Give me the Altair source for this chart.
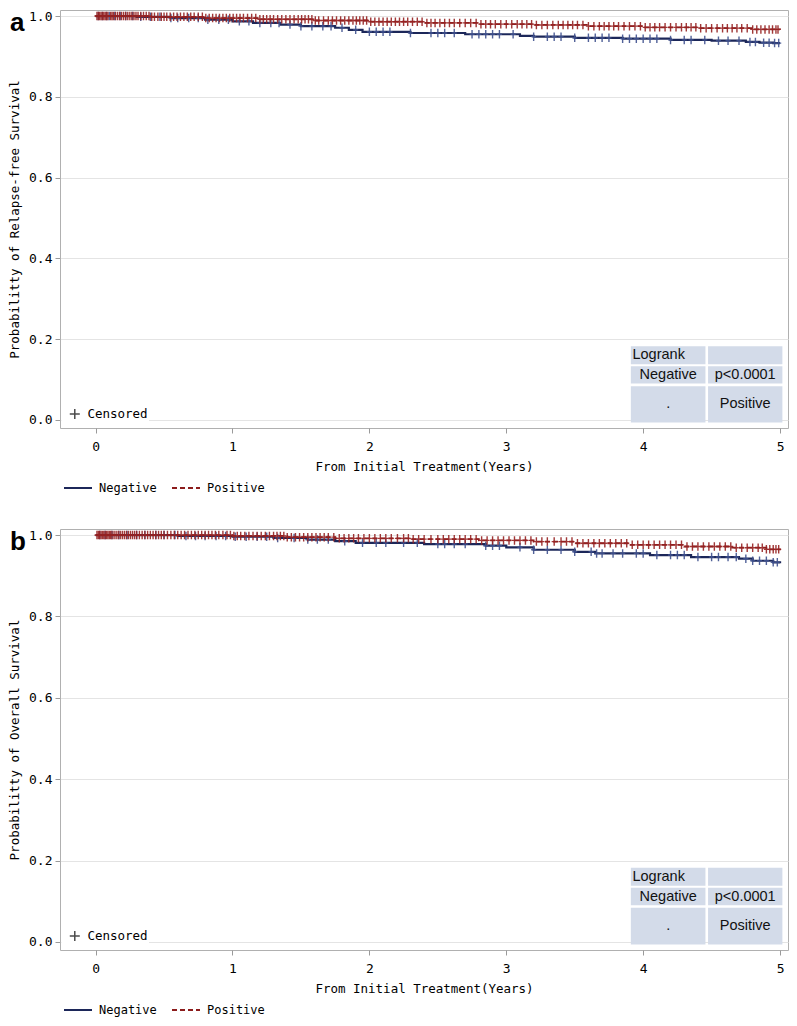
import altair as alt
import numpy as np
import pandas as pd

GROUPS = ["Negative", "Positive"]
X_TICKS = [0, 1, 2, 3, 4, 5]
Y_TICKS = [0.0, 0.2, 0.4, 0.6, 0.8, 1.0]

# ---- Panel a: relapse-free survival (KM step values) ----
rfs_neg_time = [0.0, 0.30, 0.55, 0.80, 1.00, 1.15, 1.35, 1.50, 1.75, 1.85, 1.95, 2.30, 2.70, 3.10, 3.20, 3.50, 3.85, 4.20, 4.50, 4.75, 4.85, 4.95, 5.00]
rfs_neg_surv = [1.000, 0.998, 0.995, 0.991, 0.987, 0.983, 0.979, 0.975, 0.971, 0.966, 0.961, 0.958, 0.955, 0.951, 0.949, 0.946, 0.944, 0.941, 0.939, 0.936, 0.934, 0.933, 0.933]
rfs_pos_time = [0.0, 0.40, 0.80, 1.20, 1.60, 2.00, 2.40, 2.80, 3.20, 3.60, 4.00, 4.40, 4.80, 5.00]
rfs_pos_surv = [1.000, 0.998, 0.995, 0.992, 0.989, 0.986, 0.983, 0.980, 0.978, 0.975, 0.972, 0.970, 0.967, 0.966]
rfs_neg_cens = [0.02, 0.05, 0.08, 0.10, 0.14, 0.18, 0.22, 0.27, 0.33, 0.40, 0.47, 0.55, 0.60, 0.68, 0.75, 0.82, 0.90, 0.97,
                1.05, 1.12, 1.20, 1.28, 1.34, 1.42, 1.50, 1.58, 1.66, 1.72, 1.80, 1.90, 2.00, 2.05, 2.10, 2.15, 2.30, 2.45,
                2.50, 2.55, 2.62, 2.75, 2.80, 2.85, 2.90, 2.95, 3.05, 3.20, 3.30, 3.35, 3.40, 3.50, 3.60, 3.65, 3.70, 3.75,
                3.85, 3.90, 3.95, 4.00, 4.05, 4.10, 4.20, 4.30, 4.35, 4.45, 4.55, 4.62, 4.70, 4.78, 4.82, 4.88, 4.92, 4.96, 4.99]
rfs_pos_cens = [0.01, 0.02, 0.03, 0.04, 0.05, 0.06, 0.07, 0.08, 0.09, 0.11, 0.12, 0.13, 0.145, 0.16, 0.175, 0.19, 0.205,
                0.22, 0.235, 0.25, 0.265, 0.28, 0.295, 0.31, 0.33, 0.35, 0.37, 0.39, 0.41, 0.43, 0.455, 0.48, 0.50, 0.52,
                0.545, 0.57, 0.595, 0.62, 0.645, 0.67, 0.695, 0.72, 0.75, 0.78, 0.805, 0.83, 0.855, 0.88, 0.905, 0.93,
                0.955, 0.98, 1.005, 1.03, 1.055, 1.08, 1.11, 1.14, 1.17, 1.20, 1.225, 1.25, 1.275, 1.30, 1.33, 1.36, 1.39,
                1.42, 1.45, 1.48, 1.505, 1.53, 1.555, 1.58, 1.605, 1.63, 1.665, 1.70, 1.73, 1.76, 1.79, 1.82, 1.85, 1.88,
                1.905, 1.93, 1.955, 1.98, 2.01, 2.04, 2.07, 2.10, 2.13, 2.16, 2.19, 2.22, 2.25, 2.28, 2.315, 2.35, 2.385,
                2.42, 2.45, 2.48, 2.515, 2.55, 2.585, 2.62, 2.66, 2.70, 2.74, 2.78, 2.815, 2.85, 2.885, 2.92, 2.96, 3.00,
                3.04, 3.08, 3.115, 3.15, 3.185, 3.22, 3.26, 3.30, 3.34, 3.38, 3.415, 3.45, 3.485, 3.52, 3.56, 3.60, 3.64,
                3.68, 3.715, 3.75, 3.785, 3.82, 3.86, 3.90, 3.94, 3.98, 4.015, 4.05, 4.085, 4.12, 4.16, 4.20, 4.24, 4.28,
                4.315, 4.35, 4.385, 4.42, 4.46, 4.50, 4.54, 4.58, 4.615, 4.65, 4.685, 4.72, 4.76, 4.80, 4.83, 4.86, 4.89,
                4.92, 4.945, 4.97, 4.985]

# ---- Panel b: overall survival ----
os_neg_time = [0.0, 0.60, 1.00, 1.30, 1.55, 1.75, 1.90, 2.40, 2.85, 3.00, 3.20, 3.50, 3.65, 4.05, 4.35, 4.70, 4.80, 4.95, 5.00]
os_neg_surv = [1.000, 0.998, 0.996, 0.993, 0.989, 0.985, 0.981, 0.978, 0.974, 0.970, 0.964, 0.959, 0.955, 0.951, 0.946, 0.942, 0.937, 0.933, 0.931]
os_pos_time = [0.0, 1.00, 1.40, 1.75, 2.30, 2.80, 3.20, 3.50, 3.90, 4.30, 4.65, 4.90, 5.00]
os_pos_surv = [1.000, 0.998, 0.995, 0.992, 0.990, 0.987, 0.984, 0.980, 0.976, 0.972, 0.969, 0.965, 0.963]
os_neg_cens = [0.03, 0.07, 0.12, 0.17, 0.23, 0.30, 0.36, 0.44, 0.50, 0.58, 0.66, 0.73, 0.80, 0.88, 0.95, 1.02, 1.10, 1.18,
               1.25, 1.33, 1.45, 1.55, 1.62, 1.70, 1.82, 1.95, 2.05, 2.12, 2.25, 2.35, 2.50, 2.55, 2.62, 2.70, 2.85, 2.90,
               2.95, 3.10, 3.20, 3.30, 3.40, 3.50, 3.62, 3.66, 3.70, 3.78, 3.85, 3.95, 4.00, 4.10, 4.20, 4.25, 4.30, 4.40,
               4.50, 4.55, 4.62, 4.68, 4.75, 4.80, 4.85, 4.90, 4.95, 4.98]
os_pos_cens = [0.01, 0.02, 0.03, 0.04, 0.05, 0.06, 0.07, 0.08, 0.09, 0.10, 0.11, 0.12, 0.135, 0.15, 0.165, 0.18, 0.195,
               0.21, 0.225, 0.24, 0.255, 0.27, 0.285, 0.30, 0.32, 0.34, 0.36, 0.38, 0.40, 0.42, 0.44, 0.46, 0.48, 0.50,
               0.525, 0.55, 0.575, 0.60, 0.625, 0.65, 0.675, 0.70, 0.725, 0.75, 0.775, 0.80, 0.825, 0.85, 0.875, 0.90,
               0.93, 0.96, 0.985, 1.01, 1.035, 1.06, 1.09, 1.12, 1.15, 1.18, 1.21, 1.24, 1.27, 1.30, 1.325, 1.35, 1.375,
               1.40, 1.43, 1.46, 1.49, 1.52, 1.55, 1.58, 1.61, 1.64, 1.67, 1.70, 1.74, 1.78, 1.815, 1.85, 1.885, 1.92,
               1.96, 2.00, 2.04, 2.08, 2.12, 2.16, 2.205, 2.25, 2.285, 2.32, 2.36, 2.40, 2.45, 2.50, 2.54, 2.58, 2.62,
               2.66, 2.70, 2.74, 2.78, 2.82, 2.86, 2.90, 2.94, 2.98, 3.02, 3.06, 3.10, 3.14, 3.18, 3.22, 3.26, 3.30, 3.35,
               3.40, 3.44, 3.48, 3.52, 3.56, 3.60, 3.64, 3.68, 3.72, 3.76, 3.80, 3.84, 3.88, 3.92, 3.96, 4.00, 4.04, 4.08,
               4.12, 4.16, 4.20, 4.24, 4.28, 4.32, 4.36, 4.40, 4.44, 4.48, 4.52, 4.56, 4.60, 4.64, 4.68, 4.72, 4.76, 4.80,
               4.84, 4.87, 4.90, 4.925, 4.95, 4.97, 4.99]

# ---- Logrank inset table texts ----
table_rows = [["Logrank", ""], ["Negative", "p<0.0001"], [".", "Positive"]]

# ---------------- styling / layout ----------------
NAVY = "#1c2759"
RED = "#8c1c1c"
NAVY_C = "#40528f"
RED_C = "#962222"
MONO = "DejaVu Sans Mono"
SANS = "Liberation Sans"
W = 728
XDOM = [-0.26, 5.058]
YDOM = [-0.02, 1.015]
PLUS = "M-0.6,0L0.6,0M0,-1L0,1"
PLUS_SYM = "M-1,0L1,0M0,-1L0,1"

# table cell extents in data units (layout)
COLS = [(3.91, 4.455), (4.474, 5.017)]
ROWS = [(0.138, 0.1824), (0.0899, 0.133), (-0.0065, 0.0836)]


def step_value(times, surv, t):
    idx = np.searchsorted(np.array(times), np.array(t), side="right") - 1
    return np.array(surv)[idx]


def panel(neg_t, neg_s, pos_t, pos_s, neg_c, pos_c, ytitle, letter, height):
    curves = pd.concat([
        pd.DataFrame({"time": neg_t, "surv": neg_s, "group": "Negative"}),
        pd.DataFrame({"time": pos_t, "surv": pos_s, "group": "Positive"}),
    ])
    cens_neg = pd.DataFrame({"time": neg_c, "surv": step_value(neg_t, neg_s, neg_c)})
    cens_pos = pd.DataFrame({"time": pos_c, "surv": step_value(pos_t, pos_s, pos_c)})

    xaxis = alt.Axis(values=X_TICKS, format="d", title="From Initial Treatment(Years)", grid=False,
                     labelPadding=7, titlePadding=7)
    yaxis = alt.Axis(values=Y_TICKS, format=".1f", title=ytitle, grid=True, labelPadding=3, titlePadding=7)
    xs = alt.Scale(domain=XDOM, nice=False, zero=False)
    ys = alt.Scale(domain=YDOM, nice=False, zero=False)

    def X(f):
        return alt.X(f, type="quantitative", scale=xs, axis=xaxis)

    def Y(f):
        return alt.Y(f, type="quantitative", scale=ys, axis=yaxis)

    leg = dict(title=None, orient="none", legendX=3, legendY=height + 45,
               direction="horizontal", symbolType="stroke", symbolSize=784,
               symbolStrokeWidth=2, labelFont=MONO, labelFontSize=12,
               labelColor="black", labelOffset=6, columnPadding=11)
    color = alt.Color("group:N", scale=alt.Scale(domain=GROUPS, range=[NAVY, RED]), legend=alt.Legend(**leg))
    dash = alt.StrokeDash("group:N", scale=alt.Scale(domain=GROUPS, range=[[1, 0], [5, 3]]), legend=alt.Legend(**leg))

    base = alt.Chart(curves)
    neg_line = base.transform_filter(alt.datum.group == "Negative").mark_line(
        interpolate="step-after", strokeWidth=2.2).encode(x=X("time"), y=Y("surv"), color=color, strokeDash=dash)
    pos_line = base.transform_filter(alt.datum.group == "Positive").mark_line(
        interpolate="step-after", strokeWidth=1.8).encode(x=X("time"), y=Y("surv"), color=color, strokeDash=dash)
    neg_pts = alt.Chart(cens_neg).mark_point(shape=PLUS, size=72, filled=False, color=NAVY_C,
                                             strokeWidth=1.4, opacity=0.9).encode(x=X("time"), y=Y("surv"))
    pos_pts = alt.Chart(cens_pos).mark_point(shape=PLUS, size=72, filled=False, color=RED_C,
                                             strokeWidth=1.4, opacity=0.9).encode(x=X("time"), y=Y("surv"))

    # inset Logrank table
    cells = []
    texts = []
    for r, (y0, y1) in enumerate(ROWS):
        for c, (x0, x1) in enumerate(COLS):
            cells.append({"time": x0, "time2": x1, "surv": y0, "surv2": y1})
            txt = table_rows[r][c]
            if txt:
                if r == 0 and c == 0:
                    texts.append({"time": x0 + 0.012, "surv": (y0 + y1) / 2, "label": txt, "align": "left"})
                else:
                    texts.append({"time": (x0 + x1) / 2, "surv": (y0 + y1) / 2, "label": txt, "align": "center"})
    cells = pd.DataFrame(cells)
    texts = pd.DataFrame(texts)
    table_bg = alt.Chart(cells).mark_rect(fill="#d3dbe9").encode(
        x=X("time"), x2="time2", y=Y("surv"), y2="surv2")
    t_left = alt.Chart(texts[texts["align"] == "left"]).mark_text(
        align="left", baseline="middle", font=SANS, fontSize=14.5, color="#111").encode(
        x=X("time"), y=Y("surv"), text="label:N")
    t_center = alt.Chart(texts[texts["align"] == "center"]).mark_text(
        align="center", baseline="middle", font=SANS, fontSize=14.5, color="#111").encode(
        x=X("time"), y=Y("surv"), text="label:N")

    # "+ Censored" inset legend
    cbox = alt.Chart(pd.DataFrame({"time": [-0.25], "time2": [0.39], "surv": [-0.006], "surv2": [0.036]})).mark_rect(
        fill="white").encode(x=X("time"), x2="time2", y=Y("surv"), y2="surv2")
    cplus = alt.Chart(pd.DataFrame({"time": [-0.152], "surv": [0.0145]})).mark_point(
        shape=PLUS_SYM, size=100, filled=False, color="black", strokeWidth=1.5).encode(x=X("time"), y=Y("surv"))
    ctext = alt.Chart(pd.DataFrame({"time": [-0.06], "surv": [0.0145], "label": ["Censored"]})).mark_text(
        align="left", baseline="middle", font=MONO, fontSize=12.5, color="black").encode(
        x=X("time"), y=Y("surv"), text="label:N")

    lab = alt.Chart(pd.DataFrame({"label": [letter]})).mark_text(
        align="left", baseline="top", font=SANS, fontSize=26, fontWeight="bold", color="black").encode(
        x=alt.value(-50), y=alt.value(0), text="label:N")

    return alt.layer(cbox, table_bg, t_left, t_center, cplus, ctext,
                     neg_line, neg_pts, pos_line, pos_pts, lab).properties(width=W, height=height)


pa = panel(rfs_neg_time, rfs_neg_surv, rfs_pos_time, rfs_pos_surv, rfs_neg_cens, rfs_pos_cens,
           "Probabilitty of Relapse-free Survival", "a", 418)
pb = panel(os_neg_time, os_neg_surv, os_pos_time, os_pos_surv, os_neg_cens, os_pos_cens,
           "Probabilitty of Overall Survival", "b", 421)

chart = alt.vconcat(pa, pb, spacing=32).resolve_scale(color="independent", strokeDash="independent").properties(
    padding={"left": 0, "top": 0, "right": 0, "bottom": 0}
).configure_view(stroke="#b0b0b0", strokeWidth=1).configure_axis(
    labelFont=MONO, labelFontSize=13, labelColor="black", titleFont=MONO, titleFontSize=12.5,
    titleFontWeight="normal", titleColor="black", tickColor="#9a9a9a", tickSize=5, domain=False,
    gridColor="#e4e4e4", gridWidth=1
)

chart.save("out.html", embed_options={"renderer": "svg", "actions": False})
